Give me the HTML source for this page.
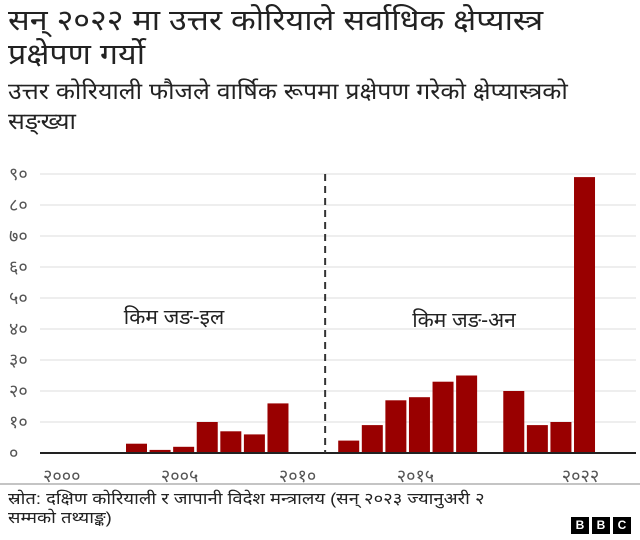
<!DOCTYPE html>
<html><head><meta charset="utf-8">
<style>
body{margin:0;background:#fff;width:640px;height:540px;overflow:hidden;font-family:"Liberation Sans","DejaVu Sans",sans-serif;color:#222}
.t{position:absolute;left:8px;top:4px;font-size:29px;line-height:34px;white-space:nowrap;transform:scaleX(1.11);transform-origin:0 0}
.s{position:absolute;left:8px;top:76px;font-size:23px;line-height:30px;white-space:nowrap;transform:scaleX(1.08);transform-origin:0 0}
.f{position:absolute;left:8px;top:490px;font-size:16px;line-height:19px;color:#222;white-space:nowrap;transform:scaleX(1.15);transform-origin:0 0}
.bbc{position:absolute;left:571px;top:517px;display:flex;gap:3px}
.bbc span{width:18px;height:17px;background:#000;color:#fff;font-weight:bold;font-size:12px;text-align:center;line-height:17px}
</style></head><body>
<div class="t">सन् २०२२ मा उत्तर कोरियाले सर्वाधिक क्षेप्यास्त्र<br>प्रक्षेपण गर्यो</div>
<div class="s">उत्तर कोरियाली फौजले वार्षिक रूपमा प्रक्षेपण गरेको क्षेप्यास्त्रको<br>सङ्ख्या</div>
<svg id="c" width="640" height="540" style="position:absolute;left:0;top:0"></svg>
<div class="f">स्रोत: दक्षिण कोरियाली र जापानी विदेश मन्त्रालय (सन् २०२३ ज्यानुअरी २<br>सम्मको तथ्याङ्क)</div>
<div class="bbc"><span>B</span><span>B</span><span>C</span></div>
<script>
const years=[2003,2004,2005,2006,2007,2008,2009,2012,2013,2014,2015,2016,2017,2019,2020,2021,2022];
const values=[3,1,2,10,7,6,16,4,9,17,18,23,25,20,9,10,89];
const yTicks=[0,10,20,30,40,50,60,70,80,90];
const yTickLabels=['०','१०','२०','३०','४०','५०','६०','७०','८०','९०'];
const xTicks=[2000,2005,2010,2015,2022];
const xTickLabels=['२०००','२००५','२०१०','२०१५','२०२२'];
const leaderSplit=2011;
const NS='http://www.w3.org/2000/svg';
const svg=document.getElementById('c');
const x=yr=>136.5+(yr-2003)*23.58;
const y=v=>453-v*3.1;
function mk(t,a){const e=document.createElementNS(NS,t);for(const k in a)e.setAttribute(k,a[k]);svg.appendChild(e);return e;}
yTicks.forEach((v,i)=>{
  const g=mk('line',{x1:40,x2:636,y1:y(v),y2:y(v),stroke:'#dcdcdc','stroke-width':1});
  
  
  const t=mk('text',{x:9,y:y(v)+6,'font-size':18,fill:'#555'});
  t.textContent=yTickLabels[i];
  
  
});
years.forEach((yr,i)=>{
  const r=mk('rect',{x:x(yr)-10.5,y:y(values[i]),width:21,height:y(0)-y(values[i]),fill:'#990000'});
  
  
});
const bl=mk('line',{x1:40,x2:636,y1:y(0),y2:y(0),stroke:'#222','stroke-width':2});


const d=mk('line',{x1:x(leaderSplit),x2:x(leaderSplit),y1:y(90),y2:y(0),stroke:'#333','stroke-width':2,'stroke-dasharray':'7,5'});


xTicks.forEach((yr,i)=>{
  const t=mk('text',{x:x(yr)-4,y:482,'font-size':18,fill:'#555','text-anchor':'middle'});
  t.textContent=xTickLabels[i];
  
  
});
const a1=mk('text',{x:174,y:324,'font-size':21,fill:'#222','text-anchor':'middle'});
a1.textContent='किम जङ-इल';


const a2=mk('text',{x:464,y:327,'font-size':21,fill:'#222','text-anchor':'middle'});
a2.textContent='किम जङ-अन';


const fl=mk('line',{x1:0,x2:640,y1:484,y2:484,stroke:'#888','stroke-width':1});


</script>
</body></html>
